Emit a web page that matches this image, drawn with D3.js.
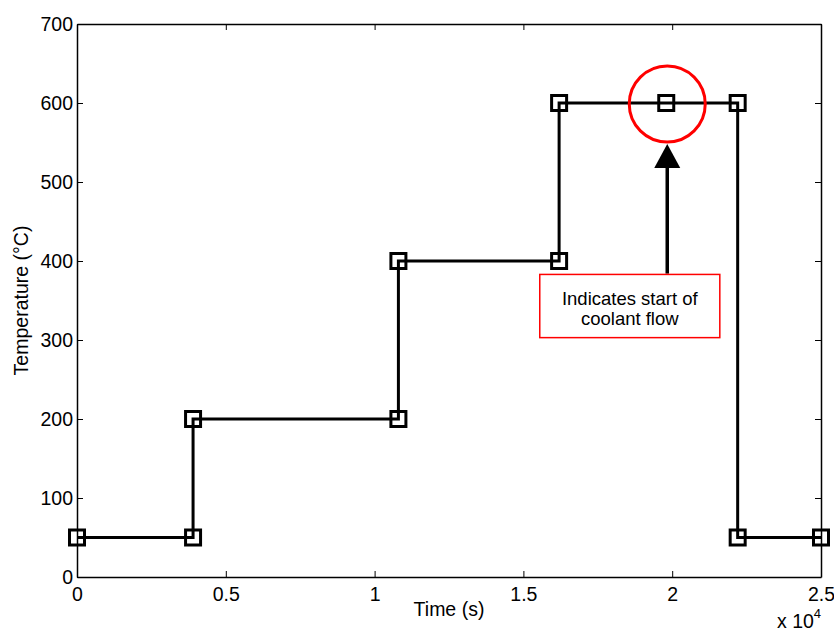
<!DOCTYPE html>
<html>
<head>
<meta charset="utf-8">
<title>Temperature steps</title>
<script src="https://d3js.org/d3.v7.min.js"></script>
<style>
  body { margin: 0; background: #fff; }
  svg text { font-family: "Liberation Sans", Arial, sans-serif; fill: #000; }
</style>
</head>
<body>
<svg id="chart" width="834" height="631"></svg>
<script>
// step profile: time (s) vs temperature (C)
var times = [0, 3900, 3900, 10800, 10800, 16200, 16200, 19800, 22200, 22200, 25000];
var temps = [50, 50, 200, 200, 400, 400, 600, 600, 600, 50, 50];

var xTicks = [0, 5000, 10000, 15000, 20000, 25000];
var xTickLabels = ["0", "0.5", "1", "1.5", "2", "2.5"];
var yTicks = [0, 100, 200, 300, 400, 500, 600, 700];

// annotation (data coordinates)
var noteTarget = {t: 19800, v: 600};
var noteArrow = {t: 19800, from: 384, to: 548};
var noteBox = {t0: 15550, t1: 21600, v0: 383, v1: 303};
var noteLines = ["Indicates start of", "coolant flow"];

var margin = {top: 24, right: 13, bottom: 54, left: 77},
    width = 834 - margin.left - margin.right,
    height = 631 - margin.top - margin.bottom;

var svg = d3.select("#chart");
var g = svg.append("g")
    .attr("transform", "translate(" + margin.left + "," + margin.top + ")");

var x = d3.scaleLinear().domain([0, 25000]).range([0, width]);
var y = d3.scaleLinear().domain([0, 700]).range([height, 0]);

// axes with inward ticks on all sides, like matlab box
var fmt = function(d, i) { return xTickLabels[i]; };
g.append("g")
    .attr("transform", "translate(0," + height + ")")
    .call(d3.axisBottom(x).tickValues(xTicks).tickSizeInner(-6).tickSizeOuter(0).tickPadding(10).tickFormat(fmt))
    .attr("class", "axis");
g.append("g")
    .call(d3.axisTop(x).tickValues(xTicks).tickSizeInner(-6).tickSizeOuter(0).tickFormat(""))
    .attr("class", "axis");
g.append("g")
    .call(d3.axisLeft(y).tickValues(yTicks).tickSizeInner(-6).tickSizeOuter(0).tickPadding(4))
    .attr("class", "axis");
g.append("g")
    .attr("transform", "translate(" + width + ",0)")
    .call(d3.axisRight(y).tickValues(yTicks).tickSizeInner(-6).tickSizeOuter(0).tickFormat(""))
    .attr("class", "axis");

g.selectAll(".axis path").attr("stroke", "#000").attr("stroke-width", 1.5);
g.selectAll(".axis line").attr("stroke", "#000").attr("stroke-width", 1);
g.selectAll(".axis text")
    .style("font-size", "19.5px")
    .style("font-family", "'Liberation Sans', Arial, sans-serif")
    .attr("fill", "#000");

// axis labels
g.append("text")
    .attr("x", width / 2)
    .attr("y", height + 39)
    .attr("text-anchor", "middle")
    .style("font-size", "19.5px")
    .text("Time (s)");

g.append("text")
    .attr("transform", "translate(" + (-49) + "," + (height / 2) + ") rotate(-90)")
    .attr("text-anchor", "middle")
    .style("font-size", "19.5px")
    .text("Temperature (°C)");

var mult = g.append("text")
    .attr("x", width - 44)
    .attr("y", height + 51)
    .style("font-size", "19.5px");
mult.append("tspan").text("x 10");
mult.append("tspan").attr("dy", -10).style("font-size", "13px").text("4");

// the step line
var pts = times.map(function(t, i) { return [t, temps[i]]; });
var line = d3.line()
    .x(function(d) { return x(d[0]); })
    .y(function(d) { return y(d[1]); });

g.append("path")
    .datum(pts)
    .attr("d", line)
    .attr("fill", "none")
    .attr("stroke", "#000")
    .attr("stroke-width", 3);

var sq = 15;
g.selectAll("rect.marker")
    .data(pts)
    .enter()
    .append("rect")
    .attr("class", "marker")
    .attr("x", function(d) { return x(d[0]) - sq / 2; })
    .attr("y", function(d) { return y(d[1]) - sq / 2; })
    .attr("width", sq)
    .attr("height", sq)
    .attr("fill", "none")
    .attr("stroke", "#000")
    .attr("stroke-width", 3);

// annotation
g.append("circle")
    .attr("cx", x(noteTarget.t) + 1)
    .attr("cy", y(noteTarget.v) + 1)
    .attr("r", 38)
    .attr("fill", "none")
    .attr("stroke", "#f00")
    .attr("stroke-width", 3);

var ax = x(noteArrow.t) + 1;
g.append("line")
    .attr("x1", ax).attr("x2", ax)
    .attr("y1", y(noteArrow.from))
    .attr("y2", y(noteArrow.to) + 20)
    .attr("stroke", "#000")
    .attr("stroke-width", 3.5);
g.append("path")
    .attr("d", "M" + ax + "," + y(noteArrow.to) +
        "L" + (ax - 13) + "," + (y(noteArrow.to) + 24) +
        "L" + (ax + 13) + "," + (y(noteArrow.to) + 24) + "Z")
    .attr("fill", "#000");

var bx0 = x(noteBox.t0), bx1 = x(noteBox.t1),
    by0 = y(noteBox.v0), by1 = y(noteBox.v1);
g.append("rect")
    .attr("x", bx0).attr("y", by0)
    .attr("width", bx1 - bx0).attr("height", by1 - by0)
    .attr("fill", "#fff")
    .attr("stroke", "#f00")
    .attr("stroke-width", 1.5);

g.selectAll("text.note")
    .data(noteLines)
    .enter()
    .append("text")
    .attr("class", "note")
    .attr("x", (bx0 + bx1) / 2)
    .attr("y", function(d, i) { return by0 + 31 + i * 20; })
    .attr("text-anchor", "middle")
    .style("font-size", "18.5px")
    .text(function(d) { return d; });
</script>
</body>
</html>
